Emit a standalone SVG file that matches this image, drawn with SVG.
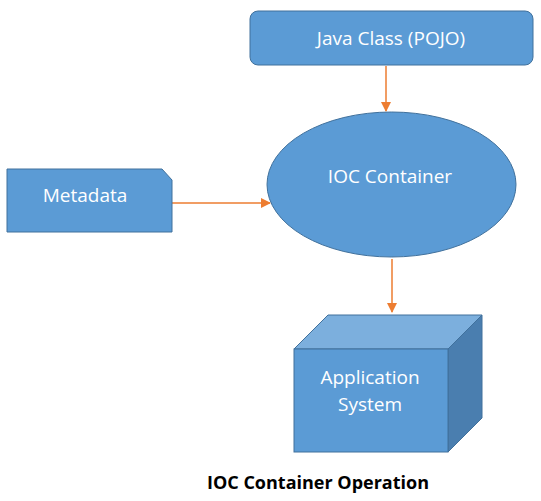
<svg xmlns="http://www.w3.org/2000/svg" width="541" height="501" viewBox="0 0 541 501">
<style>
.shape{fill:#5B9BD5;stroke:#41719C;stroke-width:1}
.lbl{font-family:"Open Sans","Liberation Sans",sans-serif;font-size:19px;fill:#FFFFFF;text-anchor:middle}
.conn{stroke:#ED7D31;stroke-width:1.5;fill:none}
.cap{font-family:"Open Sans","Liberation Sans",sans-serif;font-size:18px;font-weight:bold;fill:#000000;text-anchor:middle}
</style>
<defs>
<marker id="arr" markerWidth="10" markerHeight="10" refX="9" refY="5" orient="auto" markerUnits="userSpaceOnUse">
<path d="M0,0 L10,5 L0,10 Z" fill="#ED7D31"/>
</marker>
</defs>
<rect width="541" height="501" fill="#FFFFFF"/>
<g id="connectors">
<line class="conn" x1="386" y1="66" x2="386" y2="111" marker-end="url(#arr)"/>
<line class="conn" x1="172" y1="203" x2="270" y2="203" marker-end="url(#arr)"/>
<line class="conn" x1="392" y1="259" x2="392" y2="312" marker-end="url(#arr)"/>
</g>
<g id="java-class">
<rect class="shape" x="250" y="11" width="283" height="54" rx="8" ry="8"/>
<text class="lbl" x="391" y="45">Java Class (POJO)</text>
</g>
<g id="ioc-container">
<ellipse class="shape" cx="391.5" cy="184.5" rx="124.5" ry="72.5"/>
<text class="lbl" x="390" y="183">IOC Container</text>
</g>
<g id="metadata">
<path class="shape" d="M7,169 L162,169 L172,180 L172,232 L7,232 Z"/>
<text class="lbl" x="85" y="202">Metadata</text>
</g>
<g id="application-system">
<path class="shape" d="M294,349 L328,315 L482,315 L448,349 Z" style="fill:#7CAFDD"/>
<path class="shape" d="M448,349 L482,315 L482,418 L448,452 Z" style="fill:#4A7EAF"/>
<rect class="shape" x="294" y="349" width="154" height="103"/>
<text class="lbl" x="370" y="384">Application</text>
<text class="lbl" x="370" y="411">System</text>
</g>
<text class="cap" x="318" y="489">IOC Container Operation</text>
</svg>
